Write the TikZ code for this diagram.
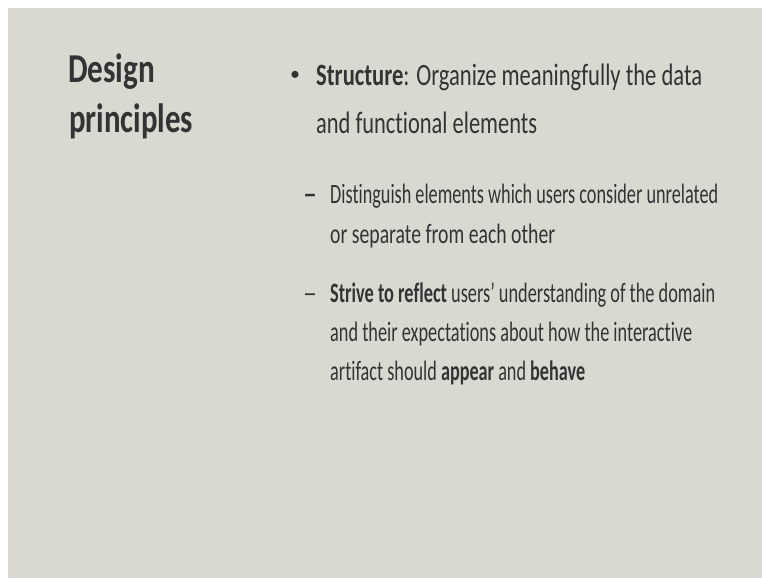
\documentclass[tikz,border=0pt]{standalone}
\usepackage{fontspec}
\setmainfont{Carlito}[Ligatures={NoCommon,NoRare,NoDiscretionary}]
\usepackage{graphicx}
\definecolor{slidebg}{HTML}{D9D8D1}
\definecolor{ink}{HTML}{333333}
\newcommand\fitline[2]{\resizebox{#1pt}{\height}{#2}}
\begin{document}
\begin{tikzpicture}[x=1pt,y=-1pt,
  txt/.style={anchor=base west, inner sep=0pt, text=ink},
  titlefont/.style={font=\fontsize{41}{41}\selectfont\bfseries},
  mainfont/.style={font=\fontsize{31}{31}\selectfont},
  subfont/.style={font=\fontsize{28}{28}\selectfont}]
\useasboundingbox (0,0) rectangle (762,578);
\fill[white] (0,0) rectangle (762,578);
\fill[slidebg] (8,8) rectangle (762,578);
% title
\node[txt, titlefont] (t1) at (68,83) {\fitline{87}{Design}};
\node[txt, titlefont] (t2) at (69,132) {\fitline{124}{principles}};
% main bullet
\node[txt, font=\fontsize{20}{20}\selectfont] (b1) at (290,80) {•};
\node[txt, mainfont] (m1) at (316,85) {\fitline{386}{\textbf{Structure}: Organize meaningfully the data}};
\node[txt, mainfont] (m2) at (316,133) {\fitline{221}{and functional elements}};
% sub bullet 1
\node[txt, subfont] (d1) at (303,203) {\textbf{–}};
\node[txt, subfont] (s1a) at (330,203) {\fitline{388}{Distinguish elements which users consider unrelated}};
\node[txt, subfont] (s1b) at (330,243) {\fitline{225}{or separate from each other}};
% sub bullet 2
\node[txt, subfont] (d2) at (303,302) {–};
\node[txt, subfont] (s2a) at (330,302) {\fitline{385}{\textbf{Strive to reflect} users’ understanding of the domain}};
\node[txt, subfont] (s2b) at (330,341) {\fitline{362}{and their expectations about how the interactive}};
\node[txt, subfont] (s2c) at (330,380) {\fitline{255}{artifact should \textbf{appear} and \textbf{behave}}};
\end{tikzpicture}
\end{document}
